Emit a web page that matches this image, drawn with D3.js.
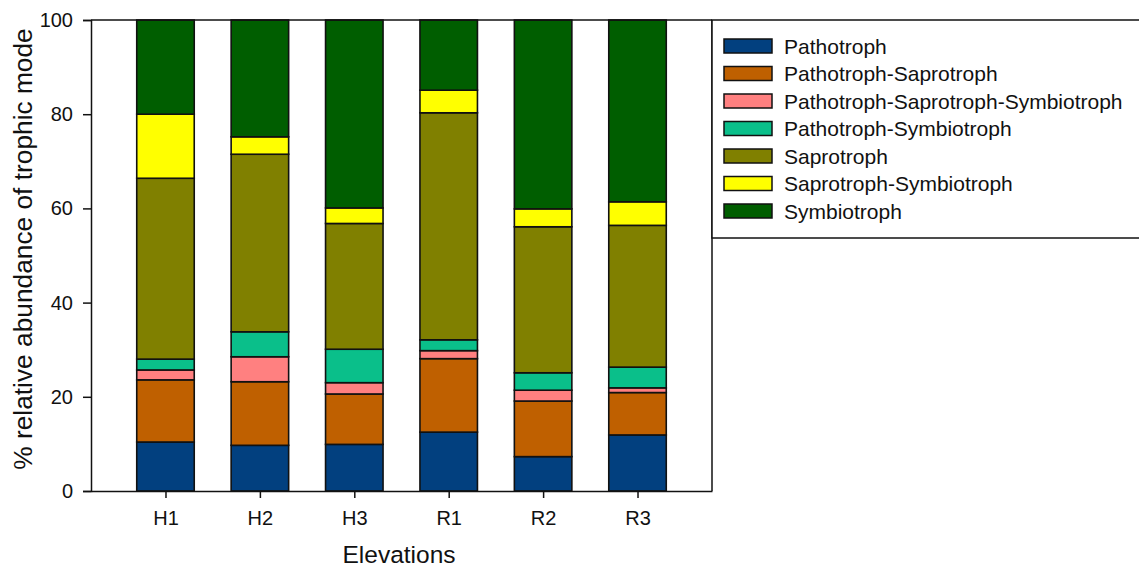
<!DOCTYPE html>
<html><head><meta charset="utf-8">
<script src="https://cdn.jsdelivr.net/npm/d3@7"></script>
<style>body{margin:0;background:#fff;} text{font-family:"Liberation Sans",Arial,sans-serif;fill:#111;}</style>
</head><body>
<svg id="c" width="1139" height="567"></svg>
<script>
const categories = ["H1","H2","H3","R1","R2","R3"];
const seriesNames = ["Pathotroph","Pathotroph-Saprotroph","Pathotroph-Saprotroph-Symbiotroph","Pathotroph-Symbiotroph","Saprotroph","Saprotroph-Symbiotroph","Symbiotroph"];
const pathotroph = [10.4, 9.7, 9.9, 12.5, 7.3, 11.9];
const pathoSapro = [13.2, 13.5, 10.7, 15.6, 11.8, 9.0];
const pathoSaproSymbio = [2.1, 5.3, 2.4, 1.7, 2.3, 1.0];
const pathoSymbio = [2.3, 5.3, 7.1, 2.3, 3.7, 4.4];
const saprotroph = [38.4, 37.7, 26.7, 48.2, 31.0, 30.1];
const saproSymbio = [13.6, 3.7, 3.3, 4.8, 3.8, 5.0];
const symbiotroph = [20.0, 24.8, 39.9, 14.9, 40.1, 38.6];
const yTicks = [0, 20, 40, 60, 80, 100];
const colors = ["#02407F","#BF6000","#FF8080","#0ABF8A","#808000","#FFFF00","#005E00"];

const seriesValues = [pathotroph, pathoSapro, pathoSaproSymbio, pathoSymbio, saprotroph, saproSymbio, symbiotroph];
const rows = categories.map((c,i)=>{const r={cat:c}; seriesNames.forEach((s,j)=>r[s]=seriesValues[j][i]); return r;});
const stack = d3.stack().keys(seriesNames)(rows);

const svg = d3.select("#c");
const L=91, R=712, T=20, B=491;
const x = d3.scalePoint().domain(categories).range([L,R]).padding(0.789);
const y = d3.scaleLinear().domain([0,100]).range([B,T]);
const bw = 57.5;

const g = svg.append("g");
stack.forEach((s,j)=>{
  g.selectAll(null).data(s).enter().append("rect")
    .attr("x", d=>x(d.data.cat)-bw/2)
    .attr("y", d=>y(d[1]))
    .attr("width", bw)
    .attr("height", d=>y(d[0])-y(d[1]))
    .attr("fill", colors[j])
    .attr("stroke","#111").attr("stroke-width",1.6);
});

// frame
svg.append("line").attr("x1",L).attr("x2",R).attr("y1",T).attr("y2",T).attr("stroke","#111").attr("stroke-width",1.5);
svg.append("line").attr("x1",R).attr("x2",R).attr("y1",T).attr("y2",B).attr("stroke","#111").attr("stroke-width",1.5);

const ya = svg.append("g").attr("transform",`translate(${L},0)`)
  .call(d3.axisLeft(y).tickValues(yTicks).tickSize(8).tickPadding(10).tickFormat(d3.format("d")));
ya.selectAll("text").style("font-size","20px");
ya.selectAll("path,line").attr("stroke","#111").attr("stroke-width",1.5);

const xa = svg.append("g").attr("transform",`translate(0,${B})`)
  .call(d3.axisBottom(x).tickSizeInner(7).tickSizeOuter(0).tickPadding(13));
xa.selectAll("text").style("font-size","20px");
xa.selectAll("path,line").attr("stroke","#111").attr("stroke-width",1.5);

svg.append("text").attr("x",399).attr("y",563).attr("text-anchor","middle").style("font-size","24.5px").text("Elevations");
svg.append("text").attr("transform","translate(32,249) rotate(-90)").attr("text-anchor","middle").style("font-size","26.3px").text("% relative abundance of trophic mode");

// legend
const lg = svg.append("g");
lg.append("rect").attr("x",R).attr("y",T).attr("width",500).attr("height",218).attr("fill","#fff").attr("stroke","#111").attr("stroke-width",1.5);
seriesNames.forEach((s,j)=>{
  const cy = 46 + j*27.5;
  lg.append("rect").attr("x",724).attr("y",cy-7).attr("width",48).attr("height",14).attr("fill",colors[j]).attr("stroke","#111").attr("stroke-width",1.5);
  lg.append("text").attr("x",784).attr("y",cy+7.5).style("font-size","21px").text(s);
});
</script>
</body></html>
